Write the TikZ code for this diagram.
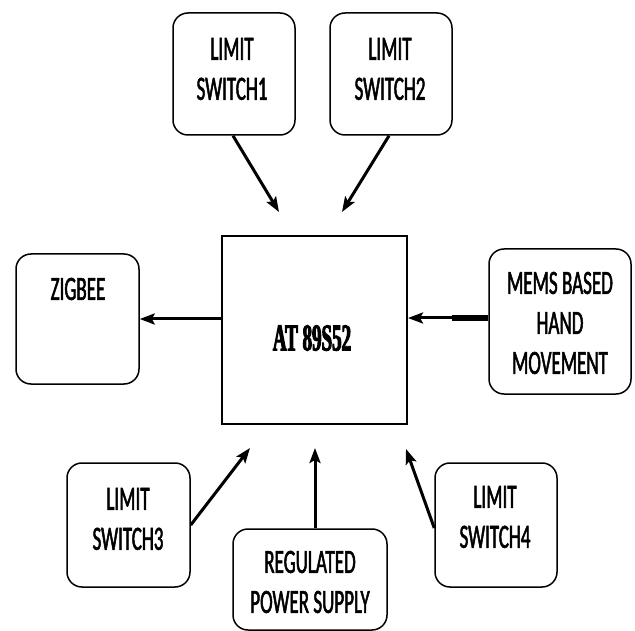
\documentclass[tikz,border=0pt]{standalone}
\usepackage{fontspec}
\newfontfamily\labfont[FakeStretch=0.56,FakeBold=1.5]{Carlito}
\newfontfamily\mcufont[UprightFont={* Bold},FakeStretch=0.5,FakeBold=2.5]{Liberation Serif}
\usetikzlibrary{arrows.meta}
\begin{document}
\begin{tikzpicture}[x=1pt,y=-1pt,
  rbox/.style={draw, line width=1.5pt, rounded corners=15pt, inner sep=0pt},
  mbox/.style={draw, line width=2pt, inner sep=0pt},
  lab/.style={font=\labfont\fontsize{34}{40}\selectfont, align=center, inner sep=0pt},
  conn/.style={line width=3pt, -{Stealth[length=15pt,width=11pt,inset=3pt]}}
]
\useasboundingbox (0,0) rectangle (635,631);
% boxes
\node[rbox, minimum width=122pt, minimum height=122pt] (ls1) at (234,74) {};
\node[rbox, minimum width=122pt, minimum height=122pt] (ls2) at (391,74) {};
\node[rbox, minimum width=123pt, minimum height=130pt] (zig) at (77.5,319) {};
\node[mbox, minimum width=185pt, minimum height=188pt] (mcu) at (314.5,330) {};
\node[rbox, minimum width=142pt, minimum height=145pt] (mems) at (560,321.5) {};
\node[rbox, minimum width=123pt, minimum height=124pt] (ls3) at (128.5,525) {};
\node[rbox, minimum width=154pt, minimum height=101pt] (rps) at (310,579.5) {};
\node[rbox, minimum width=122pt, minimum height=124pt] (ls4) at (496,525) {};
% texts
\node[lab] (t1) at (232,69) {LIMIT\\SWITCH1};
\node[lab] (t2) at (390,69) {LIMIT\\SWITCH2};
\node[lab] (tz) at (78,289) {ZIGBEE};
\node[font=\mcufont\fontsize{38}{40}\selectfont, inner sep=0pt] (tm) at (312,338) {AT 89S52};
\node[lab] (te) at (560,323) {MEMS BASED\\HAND\\MOVEMENT};
\node[lab] (t3) at (128,519) {LIMIT\\SWITCH3};
\node[lab] (tr) at (310,582) {REGULATED\\POWER SUPPLY};
\node[lab] (t4) at (495,517) {LIMIT\\SWITCH4};
% arrow ends
\coordinate (a1) at (279,212);
\coordinate (a2) at (342,212);
\coordinate (a3) at (250,448);
\coordinate (a4) at (315,448);
\coordinate (a5) at (406,449);
\coordinate (m1) at (452,318);
% connectors
\draw[conn] ([xshift=-1pt]ls1.south) -- (a1);
\draw[conn] ([xshift=-2pt]ls2.south) -- (a2);
\draw[conn] (zig.east -| mcu.west) -- (zig.east);
\draw[line width=6pt, line cap=butt] ([yshift=3.5pt]mems.west) -- (m1);
\draw[conn] ([yshift=3.5pt]mems.west) -- ([yshift=3.5pt]mems.west -| mcu.east);
\draw[conn] (ls3.east) -- (a3);
\draw[conn] ([xshift=5pt]rps.north) -- (a4);
\draw[conn] ([yshift=-3pt]ls4.west) -- (a5);
\end{tikzpicture}
\end{document}
